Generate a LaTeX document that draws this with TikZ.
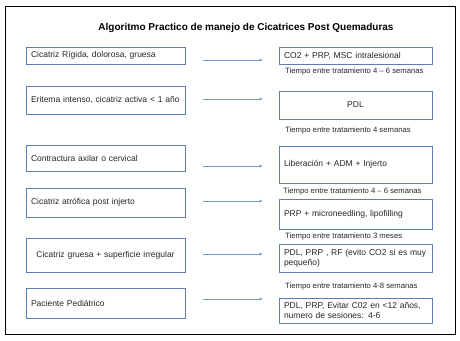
\documentclass[tikz,border=0pt]{standalone}
\usepackage{fontspec}
\setmainfont{Liberation Sans}
\usetikzlibrary{arrows.meta,positioning}
\definecolor{boxblue}{HTML}{5B7DB1}
\definecolor{arrblue}{HTML}{6C9BD2}
\definecolor{txtgrey}{HTML}{262626}
\tikzset{
  cond/.style  = {draw=boxblue, line width=0.8pt, inner xsep=5pt, inner ysep=2pt,
                  minimum width=159pt, text width=149pt, align=left,
                  font=\fontsize{8.5}{10}\selectfont, text=txtgrey},
  treat/.style = {cond, minimum width=153pt, text width=143pt},
  sig/.style   = {-{Stealth[length=3.5pt, width=3pt]}, draw=arrblue, line width=0.8pt,
                  shorten <=18pt, shorten >=16pt},
  lbl/.style   = {anchor=west, inner sep=0pt, font=\fontsize{7.7}{9}\selectfont, text=txtgrey},
  ttl/.style   = {font=\fontsize{10}{12}\selectfont\bfseries, text=black},
}
\begin{document}
\begin{tikzpicture}[x=1pt, y=-1pt]
  \useasboundingbox (0,0) rectangle (460,340);
  % outer frame and title
  \draw[line width=0.9pt] (5,6) rectangle (455,334);
  \node[ttl] (title) at (246,28) {Algoritmo Practico de manejo de Cicatrices Post Quemaduras};
  % row 1
  \node[cond, minimum height=17pt] (c1) at (105.5,55.5) {Cicatriz Rígida, dolorosa, gruesa};
  \node[treat, minimum height=17pt] (t1) at (355.5,56) {CO2 + PRP, MSC intralesional};
  \coordinate (a1) at (230,60);
  \draw[sig] (c1.east |- a1) -- (t1.west |- a1);
  \node[lbl] (w1) at (285,72) {Tiempo entre tratamiento 4 -- 6 semanas};
  % row 2
  \node[cond, minimum height=28pt] (c2) at (105.5,100) {Eritema intenso, cicatriz activa < 1 año};
  \node[treat, minimum height=28pt, align=center] (t2) at (355.5,105) {PDL};
  \coordinate (a2) at (230,99);
  \draw[sig] (c2.east |- a2) -- (t2.west |- a2);
  \node[lbl] (w2) at (285,131) {Tiempo entre tratamiento 4 semanas};
  % row 3
  \node[cond, minimum height=26pt] (c3) at (105.5,158) {Contractura axilar o cervical};
  \node[treat, minimum height=37pt] (t3) at (355.5,164.5) {Liberación + ADM + Injerto};
  \coordinate (a3) at (230,166);
  \draw[sig] (c3.east |- a3) -- (t3.west |- a3);
  \node[lbl] (w3) at (283,192) {Tiempo entre tratamiento 4 -- 6 semanas};
  % row 4
  \node[cond, minimum height=29pt] (c4) at (105.5,202.5) {Cicatriz atrófica post injerto};
  \node[treat, minimum height=30pt] (t4) at (355.5,214) {PRP + microneedling, lipofilling};
  \coordinate (a4) at (230,201);
  \draw[sig] (c4.east |- a4) -- (t4.west |- a4);
  \node[lbl] (w4) at (285,237) {Tiempo entre tratamiento 3 meses};
  % row 5
  \node[cond, minimum height=34pt, align=center] (c5) at (105.5,255) {Cicatriz gruesa + superficie irregular};
  \node[treat, minimum height=28pt] (t5) at (355.5,258) {PDL, PRP , RF (evito CO2 si es muy\\pequeño)};
  \coordinate (a5) at (230,254);
  \draw[sig] (c5.east |- a5) -- (t5.west |- a5);
  \node[lbl] (w5) at (285,287) {Tiempo entre tratamiento 4-8 semanas};
  % row 6
  \node[cond, minimum height=30pt] (c6) at (105.5,303) {Paciente Pediátrico};
  \node[treat, minimum height=25pt] (t6) at (355.5,310.5) {PDL, PRP, Evitar C02 en <12 años,\\numero de sesiones: 4-6};
  \coordinate (a6) at (230,299);
  \draw[sig] (c6.east |- a6) -- (t6.west |- a6);
\end{tikzpicture}
\end{document}
